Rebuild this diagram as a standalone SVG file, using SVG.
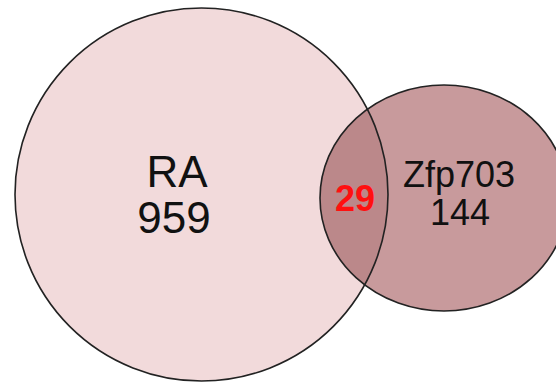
<svg xmlns="http://www.w3.org/2000/svg" width="556" height="386" viewBox="0 0 556 386">
  <style>
    .lbl { font-family: "Liberation Sans", Arial, sans-serif; fill: #111; text-anchor: middle; }
    .big { font-size: 44px; }
    .small { font-size: 36px; }
    .ov { font-family: "Liberation Sans", Arial, sans-serif; font-weight: bold; font-size: 36px; fill: #ff1010; text-anchor: middle; }
    .edge { fill: none; stroke: #222; stroke-width: 1.6; }
  </style>
  <defs>
    <clipPath id="clipBig">
      <circle cx="201.5" cy="194.5" r="186.5"/>
    </clipPath>
  </defs>
  <rect x="0" y="0" width="556" height="386" fill="#ffffff"/>
  <g id="set-ra">
    <circle cx="201.5" cy="194.5" r="186.5" fill="#f2dadb"/>
  </g>
  <g id="set-zfp703">
    <ellipse cx="444" cy="198" rx="124" ry="113" fill="#c89a9c"/>
  </g>
  <g id="overlap">
    <ellipse cx="444" cy="198" rx="124" ry="113" fill="#bb888a" clip-path="url(#clipBig)"/>
  </g>
  <g id="outlines">
    <circle class="edge" cx="201.5" cy="194.5" r="186.5"/>
    <ellipse class="edge" cx="444" cy="198" rx="124" ry="113"/>
  </g>
  <g id="labels">
    <text class="lbl big" x="177" y="187">RA</text>
    <text class="lbl big" x="174" y="233">959</text>
    <text class="lbl small" x="459" y="187">Zfp703</text>
    <text class="lbl small" x="460" y="225">144</text>
    <text class="ov" x="355" y="211">29</text>
  </g>
</svg>
